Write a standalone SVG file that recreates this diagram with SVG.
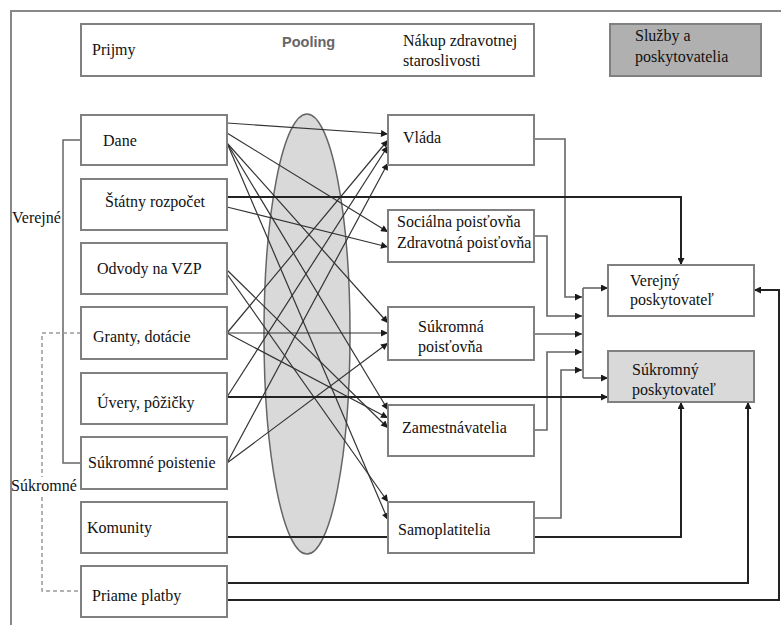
<svg xmlns="http://www.w3.org/2000/svg" width="781" height="625" viewBox="0 0 781 625">
<defs>
<marker id="ah" viewBox="0 0 10 10" refX="10" refY="5" markerWidth="10" markerHeight="7" orient="auto" markerUnits="userSpaceOnUse"><path d="M0,0 L10,5 L0,10 z" fill="#1a1a1a"/></marker>
</defs>
<style>
.box{fill:#fff;stroke:#808080;stroke-width:2}
.t{font-family:"Liberation Serif","Times New Roman",serif;font-size:16px;fill:#111}
.m{fill:none;stroke:#333;stroke-width:1.2}
.c{fill:none;stroke:#666;stroke-width:1.6}
.k{fill:none;stroke:#222;stroke-width:2}
.ar{marker-end:url(#ah)}
</style>
<rect width="781" height="625" fill="#fff"/>
<path d="M11,625 V11 H781" fill="none" stroke="#888" stroke-width="2"/>

<g id="header">
<rect class="box" x="81" y="24" width="453" height="52"/>
<text class="t" x="92" y="55">Prijmy</text>
<text x="282" y="47" font-family="'Liberation Sans',Arial,sans-serif" font-weight="bold" font-size="14.5" fill="#666">Pooling</text>
<text class="t" x="403" y="46">Nákup zdravotnej</text>
<text class="t" x="403" y="66">staroslivosti</text>
</g>
<g id="sluzby">
<rect x="610" y="24" width="151" height="52" fill="#b0b0b0" stroke="#808080" stroke-width="2"/>
<text class="t" x="635" y="41">Služby a</text>
<text class="t" x="635" y="62">poskytovatelia</text>
</g>

<ellipse id="pooling-ellipse" cx="307" cy="334" rx="43" ry="220" fill="#d9d9d9" stroke="#666" stroke-width="1.5"/>

<g id="brackets">
<path d="M81,140 H63 V463 H81" fill="none" stroke="#666" stroke-width="1.5"/>
<path d="M81,333 H42 V591 H81" fill="none" stroke="#999" stroke-width="1.5" stroke-dasharray="4 3"/>
</g>

<g id="connectors">
<!-- mesh -->
<path class="m ar" d="M227,123 L388,134"/>
<path class="m ar" d="M227,133 L388,232"/>
<path class="m ar" d="M227,143 L388,323"/>
<path class="m ar" d="M227,143 L388,410"/>
<path class="m ar" d="M227,143 L388,520"/>
<path class="m ar" d="M227,207 L388,247"/>
<path class="m ar" d="M227,270 L388,428"/>
<path class="m ar" d="M227,274 L388,502"/>
<path class="m ar" d="M227,333 L388,140"/>
<path class="m ar" d="M227,333 L388,333"/>
<path class="m ar" d="M227,333 L388,418"/>
<path class="m ar" d="M227,397 L388,146"/>
<path class="m ar" d="M227,463 L388,163"/>
<path class="m ar" d="M227,463 L388,343"/>
<!-- to bus -->
<path class="c ar" d="M534,139 H565 V297 H582"/>
<path class="c ar" d="M534,236 H547 V316 H582"/>
<path class="c ar" d="M534,334 H582"/>
<path class="c ar" d="M534,430 H547 V352 H582"/>
<path class="c ar" d="M534,518 H561 V370 H582"/>
<path class="c" d="M583,288 V378"/>
<path class="c ar" d="M583,288 H608"/>
<path class="c ar" d="M583,378 H608"/>
<!-- thick -->
<path class="k ar" d="M227,197 H681 V265"/>
<path class="k ar" d="M227,397 H608"/>
<path class="k" d="M227,537 H389"/>
<path class="k ar" d="M534,537 H681 V402"/>
<path class="k ar" d="M227,583 H748 V402"/>
<path class="k ar" d="M227,600 H779 V290 H754"/>
</g>

<g id="dane"><rect class="box" x="81" y="115" width="146" height="50"/><text class="t" x="103" y="146">Dane</text></g>
<g id="statny-rozpocet"><rect class="box" x="81" y="179" width="146" height="51"/><text class="t" x="105" y="207">Štátny rozpočet</text></g>
<g id="odvody"><rect class="box" x="81" y="243" width="146" height="51"/><text class="t" x="97" y="274">Odvody na VZP</text></g>
<g id="granty"><rect class="box" x="81" y="307" width="146" height="52"/><text class="t" x="93" y="342">Granty, dotácie</text></g>
<g id="uvery"><rect class="box" x="81" y="373" width="146" height="51"/><text class="t" x="97" y="408">Úvery, pôžičky</text></g>
<g id="sukromne-poistenie"><rect class="box" x="81" y="437" width="146" height="52"/><text class="t" x="88" y="468">Súkromné poistenie</text></g>
<g id="komunity"><rect class="box" x="81" y="502" width="146" height="51"/><text class="t" x="87" y="533">Komunity</text></g>
<g id="priame-platby"><rect class="box" x="81" y="566" width="146" height="51"/><text class="t" x="92" y="601">Priame platby</text></g>

<g id="vlada"><rect class="box" x="388" y="115" width="146" height="50"/><text class="t" x="403" y="143">Vláda</text></g>
<g id="socialna"><rect class="box" x="388" y="210" width="146" height="52"/><text class="t" x="397" y="227">Sociálna poisťovňa</text><text class="t" x="397" y="248">Zdravotná poisťovňa</text></g>
<g id="sukromna-poistovna"><rect class="box" x="388" y="307" width="146" height="53"/><text class="t" x="418" y="332">Súkromná</text><text class="t" x="418" y="352">poisťovňa</text></g>
<g id="zamestnavatelia"><rect class="box" x="388" y="405" width="146" height="51"/><text class="t" x="402" y="433">Zamestnávatelia</text></g>
<g id="samoplatitelia"><rect class="box" x="388" y="502" width="146" height="51"/><text class="t" x="398" y="535">Samoplatitelia</text></g>

<g id="verejny-poskytovatel"><rect class="box" x="608" y="265" width="146" height="51"/><text class="t" x="630" y="286">Verejný</text><text class="t" x="630" y="305">poskytovateľ</text></g>
<g id="sukromny-poskytovatel"><rect x="608" y="351" width="146" height="51" fill="#d9d9d9" stroke="#808080" stroke-width="2"/><text class="t" x="632" y="375">Súkromný</text><text class="t" x="632" y="395">poskytovateľ</text></g>

<g id="labels">
<text class="t" x="12" y="223">Verejné</text>
<rect x="12" y="477" width="66" height="18" fill="#fff"/>
<text class="t" x="11" y="491">Súkromné</text>
</g>
</svg>
